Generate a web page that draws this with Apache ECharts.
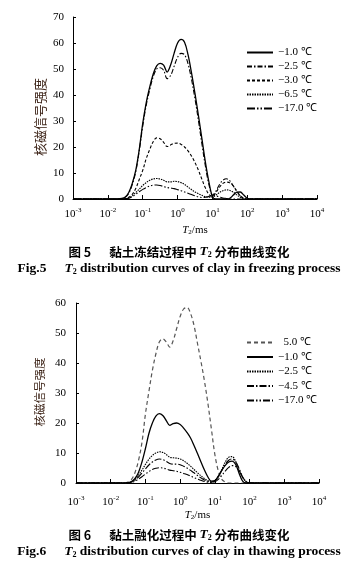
<!DOCTYPE html>
<html><head><meta charset="utf-8">
<script src="https://cdn.jsdelivr.net/npm/echarts@6/dist/echarts.min.js"></script>
<style>html,body{margin:0;padding:0;background:#fff}#c{width:358px;height:571px}</style>
</head><body><div id="c"></div>
<script>
// x values: log10(T2 / ms)
const logT2 = [-3,-1.8,-1.7,-1.6,-1.5,-1.4,-1.3,-1.2,-1.1,-1.0,-0.9,-0.8,-0.7,-0.6,-0.5,-0.4,-0.3,-0.2,-0.1,0,0.1,0.2,0.3,0.4,0.5,0.6,0.7,0.8,0.9,1.0,1.1,1.2,1.3,1.4,1.5,1.6,1.7,1.8,1.9,2.0,2.1,2.2,4];
const xTickExps = [-3,-2,-1,0,1,2,3,4];

// Fig.5 freezing
const freezeNames = ['−1.0 ℃','−2.5 ℃','−3.0 ℃','−6.5 ℃','−17.0 ℃'];
const frz_m1_0  = [0,0,0,0.2,0.8,2.5,6,11,19,29,37,43,48,51.2,52.2,51.5,48.8,51.5,56,60,61.4,60.3,55.5,48.5,40.5,32,23,14,6.5,1.0,0,0,0,0,0.3,1.5,2.6,2.7,1.5,0.3,0,0,0];
const frz_m2_5  = [0,0,0,0.1,0.6,2.2,5.5,10.5,18.5,28,36,42,47,50,50.5,49.5,46.3,47.5,51,54.5,56,55.5,52,46,38.5,30,21,12.5,5.5,1.5,3,5.5,7.2,7.8,7,5,3,1.2,0.2,0,0,0,0];
const frz_m3_0  = [0,0,0,0,0.2,0.7,1.8,4,7.5,11,15.5,19,22,23.5,23.2,21.8,20.2,20.8,21.4,21.5,21,20,18.5,16.5,14,11,7.5,4.2,1.8,1.0,2.5,4.5,6,6.5,6.2,5,3,1.2,0.3,0,0,0,0];
const frz_m6_5  = [0,0,0,0,0.1,0.4,1.2,2.5,3.8,5.2,6.3,7.2,7.7,7.9,7.7,7.2,6.6,6.6,6.8,6.7,6.3,5.6,4.6,3.6,2.7,2.0,1.4,0.9,0.7,0.8,1.5,2.5,3.2,3.5,3.3,2.6,1.6,0.7,0.2,0,0,0,0];
const frz_m17_0 = [0,0,0,0,0.1,0.3,0.9,1.8,2.8,3.7,4.4,5.0,5.3,5.4,5.2,4.8,4.4,4.2,4.0,3.6,3.2,2.7,2.2,1.7,1.2,0.8,0.6,0.7,1.0,1.3,1.2,0.8,0.4,0.2,0,0,0,0,0,0,0,0,0];

// Fig.6 thawing
const thawNames = ['\u20025.0 ℃','−1.0 ℃ ','−2.5 ℃ ','−4.5 ℃','−17.0 ℃ '];
const thw_p5_0  = [0,0,0,0,0.3,1.2,3.5,7.5,13.5,23,30.5,37.5,43,47,48.1,47,45.3,47.5,51.5,55.5,58,58.5,56.5,52.5,46.5,40.5,34,26.5,18,9.5,4,1.2,0.3,0,0,0,0,0,0,0,0,0,0];
const thw_m1_0  = [0,0,0,0,0,0.5,1.5,3.5,7,11.5,16.5,20,22.3,23.1,22.5,20.8,19.2,19.8,20,19.5,18.3,16.8,15,12.5,9.8,7,4.3,2,0.6,0.8,2.3,4.2,5.9,7,7.3,6.2,3.2,0.6,0,0,0,0,0];
const thw_m2_5  = [0,0,0,0,0.1,0.4,1.2,2.6,4.3,6.2,7.9,9.2,10,10.4,10.2,9.5,8.6,8.4,8.3,8.0,7.4,6.6,5.6,4.5,3.4,2.4,1.5,0.8,0.4,0.6,2,4.5,7,8.6,8.8,7.2,4.5,1.8,0.4,0,0,0,0];
const thw_m4_5  = [0,0,0,0,0.1,0.3,0.9,2,3.3,4.7,6,7,7.7,8,7.8,7.2,6.5,6.3,6.3,6.1,5.6,5,4.2,3.4,2.5,1.7,1.0,0.5,0.3,0.7,2.2,4.2,6.2,7.6,8.0,7,4.8,2,0.5,0,0,0,0];
const thw_m17_0 = [0,0,0,0,0.1,0.2,0.6,1.3,2.1,3,3.8,4.5,4.9,5.1,5.0,4.7,4.3,4.1,3.9,3.6,3.2,2.8,2.3,1.8,1.3,0.9,0.5,0.3,0.2,0.4,1.2,2.5,4,5.2,5.8,5.5,4,2,0.5,0,0,0,0];

const SERIF = '"Liberation Serif","Times New Roman",serif';
const CJK = '"Noto Sans CJK SC",sans-serif';

function pts(arr){ return logT2.map((x,i)=>[x,arr[i]]); }
function mk(name, arr, idx, type, color, width){
  return {name, type:'line', xAxisIndex:idx, yAxisIndex:idx, data:pts(arr), smooth:0.35,
    symbol:'none', clip:true, lineStyle:{color:color||'#000', width:width||1.1, type:type}, itemStyle:{color:color||'#000'}};
}
function xAxis(idx, margin, gap){
  return {type:'value', gridIndex:idx, min:-3, max:4, interval:1,
    axisLine:{show:true, onZero:false, lineStyle:{color:'#000', width:1}},
    axisTick:{show:true, inside:true, length:4, lineStyle:{color:'#000'}},
    splitLine:{show:false},
    axisLabel:{margin:margin, color:'#000', formatter:v=>'{b|10}{e|'+v+'}',
      rich:{b:{fontFamily:SERIF, fontSize:11, color:'#000'}, e:{fontFamily:SERIF, fontSize:7, color:'#000', padding:[0,0,7,0]}}},
    name:'{i|T}{s|2}{n|/ms}', nameLocation:'middle', nameGap:gap,
    nameTextStyle:{rich:{i:{fontFamily:SERIF, fontStyle:'italic', fontSize:11, color:'#000'}, s:{fontFamily:SERIF, fontSize:7, color:'#000', padding:[4,0,0,0]}, n:{fontFamily:SERIF, fontSize:11, color:'#000'}}}
  };
}
function yAxis(idx, max, margin){
  return {type:'value', gridIndex:idx, min:0, max:max, interval:10,
    axisLine:{show:true, onZero:false, lineStyle:{color:'#000', width:1}},
    axisTick:{show:true, inside:true, length:3, lineStyle:{color:'#000'}},
    splitLine:{show:false},
    axisLabel:{margin:margin, color:'#000', fontFamily:SERIF, fontSize:11}
  };
}
function legend(names, top, gap){
  return {data:names, orient:'vertical', left:241, top:top, itemWidth:26, itemHeight:10, itemGap:gap,
    itemStyle:{opacity:0, borderWidth:0},
    textStyle:{fontFamily:SERIF, fontSize:11, color:'#000'}, selectedMode:false};
}
function caption(fig, zh, en, top){
  return [
    {text:'{b|图 '+fig+'}{sp|}{c|'+zh[0]+' }{i|T}{s|2}{c| '+zh[1]+'}', left:'center', top:top,
     textStyle:{rich:{b:{fontFamily:CJK, fontWeight:'bold', fontSize:12.5, color:'#000'}, sp:{width:18},
       c:{fontFamily:CJK, fontWeight:'bold', fontSize:12.5, color:'#000'},
       i:{fontFamily:SERIF, fontStyle:'italic', fontWeight:'bold', fontSize:13.5, color:'#000'},
       s:{fontFamily:SERIF, fontWeight:'bold', fontSize:8, color:'#000', padding:[6,0,0,0]}}}},
    {text:'{b|Fig.'+fig+'}{sp|}{i|T}{s|2}{b| '+en+'}', left:'center', top:top+17,
     textStyle:{rich:{b:{fontFamily:SERIF, fontWeight:'bold', fontSize:13.5, color:'#000'}, sp:{width:18},
       i:{fontFamily:SERIF, fontStyle:'italic', fontWeight:'bold', fontSize:13.5, color:'#000'},
       s:{fontFamily:SERIF, fontWeight:'bold', fontSize:8, color:'#000', padding:[6,0,0,0]}}}}
  ];
}

const chart = echarts.init(document.getElementById('c'), null, {renderer:'canvas'});
chart.setOption({
  backgroundColor:'#fff',
  animation:false,
  title: caption(5, ['黏土冻结过程中','分布曲线变化'], 'distribution curves of clay in freezing process', 238)
    .concat(caption(6, ['黏土融化过程中','分布曲线变化'], 'distribution curves of clay in thawing process', 521)),
  grid:[
    {left:73, right:41, top:17, height:182},
    {left:76, right:39, top:303, height:180}
  ],
  xAxis:[xAxis(0, 8, 26), xAxis(1, 12, 27)],
  yAxis:[yAxis(0, 70, 9), yAxis(1, 60, 10)],
  legend:[legend(freezeNames, 42, 3), legend(thawNames, 332, 3.5)],
  graphic:[
    {type:'text', x:40, y:117, rotation:Math.PI/2, style:{text:'核磁信号强度', fontFamily:CJK, fontSize:13, fill:'#3d2418', align:'center', verticalAlign:'middle'}},
    {type:'text', x:40, y:392, rotation:Math.PI/2, style:{text:'核磁信号强度', fontFamily:CJK, fontSize:11.5, fill:'#3d2418', align:'center', verticalAlign:'middle'}}
  ],
  series:[
    mk(freezeNames[0], frz_m1_0, 0, 'solid', '#000', 1.3),
    mk(freezeNames[1], frz_m2_5, 0, [5,2,1.5,2]),
    mk(freezeNames[2], frz_m3_0, 0, [3,2]),
    mk(freezeNames[3], frz_m6_5, 0, [1.5,1]),
    mk(freezeNames[4], frz_m17_0, 0, [8,2,1.5,2,1.5,2]),
    mk(thawNames[0], thw_p5_0, 1, [4,3], '#555', 1.2),
    mk(thawNames[1], thw_m1_0, 1, 'solid', '#000', 1.3),
    mk(thawNames[2], thw_m2_5, 1, [1.5,1]),
    mk(thawNames[3], thw_m4_5, 1, [7,2,1.5,2]),
    mk(thawNames[4], thw_m17_0, 1, [7,2,1.5,2,1.5,2])
  ]
});
</script></body></html>
